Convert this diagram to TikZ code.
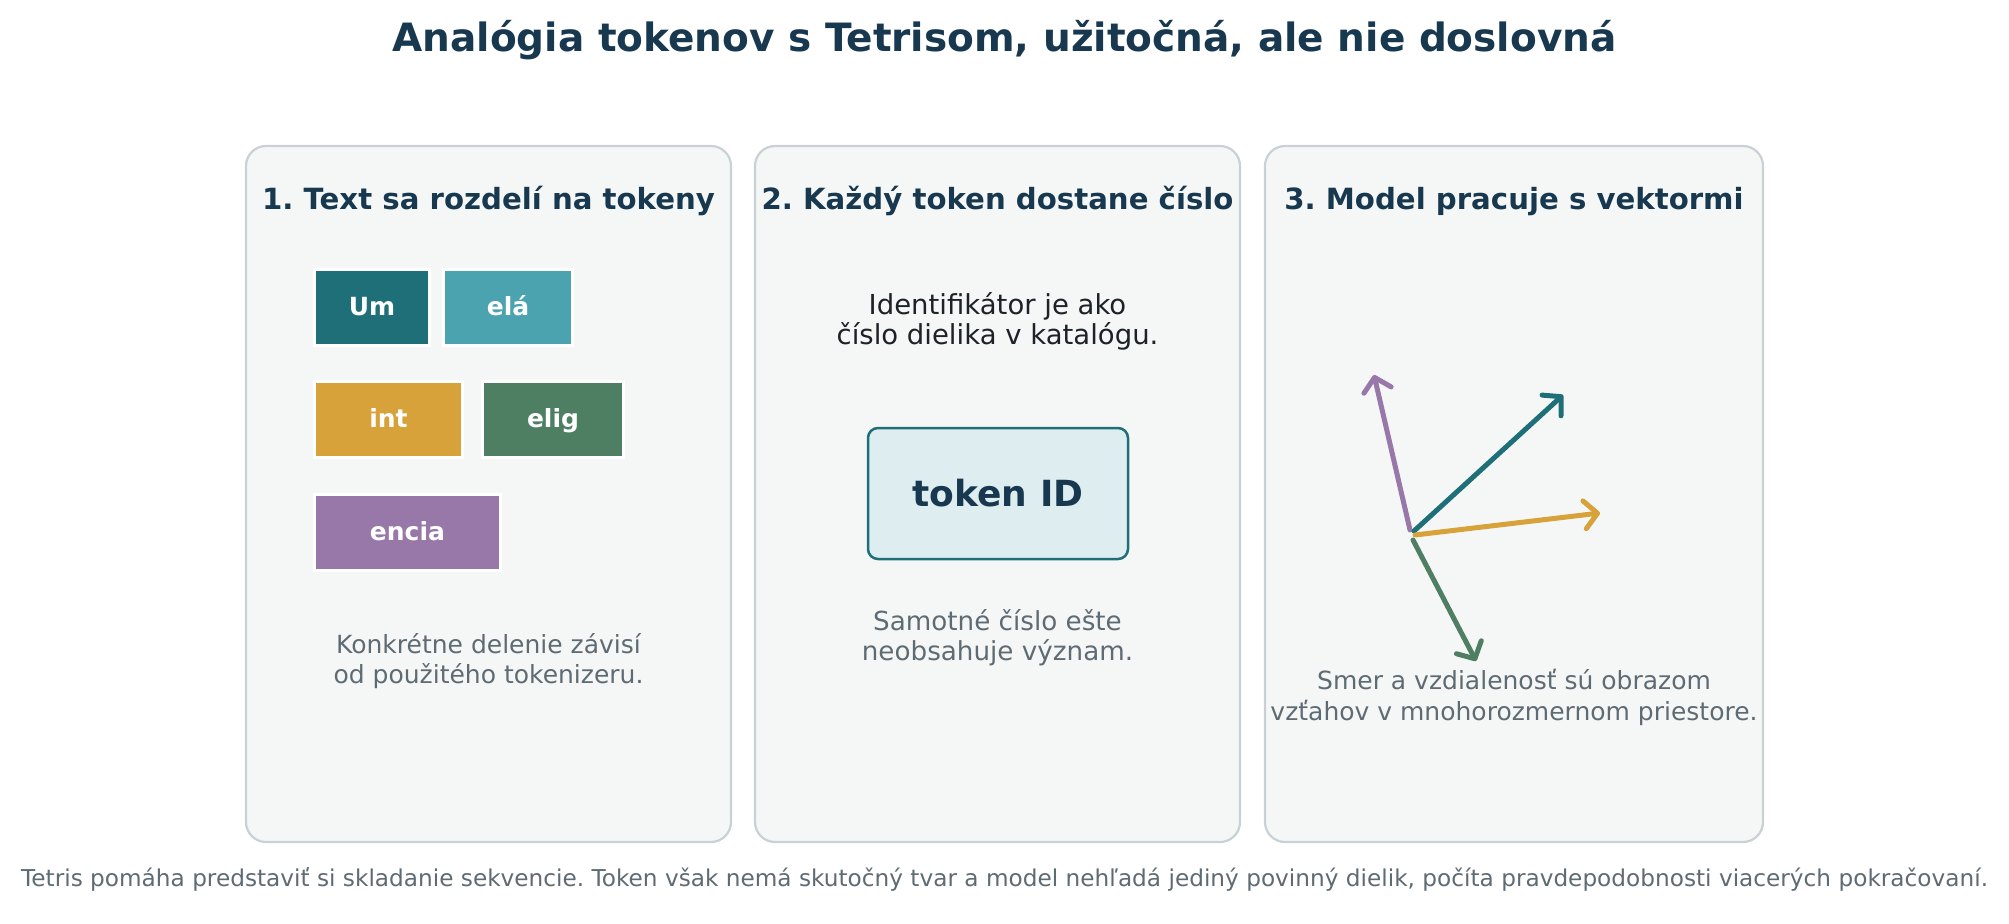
\documentclass[tikz,border=0pt]{standalone}
\usepackage{fontspec}
\setmainfont{DejaVu Sans}
\usetikzlibrary{arrows.meta}
\frenchspacing
\definecolor{navy}{HTML}{17384F}
\definecolor{panelfill}{HTML}{F5F7F7}
\definecolor{panelline}{HTML}{C9D1D5}
\definecolor{graytext}{HTML}{5F6B73}
\definecolor{darktext}{HTML}{1C2226}
\definecolor{idfill}{HTML}{DDEDF0}
\definecolor{cteal}{HTML}{1F6F78}
\definecolor{clight}{HTML}{4AA3AF}
\definecolor{corange}{HTML}{D7A23A}
\definecolor{cgreen}{HTML}{4E7F62}
\definecolor{cpurple}{HTML}{9878A8}
\tikzset{
  panel/.style={draw=panelline, fill=panelfill, line width=2.2pt, rounded corners=20pt},
  ptitle/.style={anchor=base, inner sep=0pt, text=navy, font=\fontsize{29.2}{35}\selectfont\bfseries},
  tok/.style={draw=white, line width=3pt, inner sep=0pt, minimum height=76pt, text=white,
    text height=19pt, text depth=4pt, font=\fontsize{25}{30}\selectfont\bfseries},
  body/.style={anchor=base, inner sep=0pt, text=graytext, font=\fontsize{25}{30}\selectfont},
  bodymid/.style={anchor=base, inner sep=0pt, text=graytext, font=\fontsize{26.2}{31}\selectfont},
  bodydark/.style={anchor=base, inner sep=0pt, text=darktext, font=\fontsize{27.5}{33}\selectfont},
  vec/.style={line width=5pt, line cap=round, -{Straight Barb[length=13pt,width=28pt,round]}},
}
\begin{document}
\begin{tikzpicture}[x=1pt,y=-1pt]
\useasboundingbox[fill=white] (0,0) rectangle (2009,923);
% title
\node[anchor=base, inner sep=0pt, text=navy, font=\fontsize{39}{47}\selectfont\bfseries] (title) at (1004.5,52) {Analógia tokenov s Tetrisom, užitočná, ale nie doslovná};
% panels
\draw[panel] (246,146) rectangle (731,842);
\draw[panel] (755,146) rectangle (1240,842);
\draw[panel] (1265,146) rectangle (1763,842);
\node[ptitle] (t1) at (488.5,209) {1. Text sa rozdelí na tokeny};
\node[ptitle] (t2) at (997.5,209) {2. Každý token dostane číslo};
\node[ptitle] (t3) at (1514,209) {3. Model pracuje s vektormi};
% panel 1 tokens
\node[tok, fill=cteal, minimum width=115pt] (um) at (372,307.5) {Um};
\node[tok, fill=clight, minimum width=129pt] (ela) at (508,307.5) {elá};
\node[tok, fill=corange, minimum width=148pt] (int) at (388.5,419.5) {int};
\node[tok, fill=cgreen, minimum width=141pt] (elig) at (553,419.5) {elig};
\node[tok, fill=cpurple, minimum width=186pt] (encia) at (407.5,532.5) {encia};
\node[body] (c1a) at (488.5,653) {Konkrétne delenie závisí};
\node[body] (c1b) at (488.5,683) {od použitého tokenizeru.};
% panel 2
\node[bodydark] (i1) at (997.5,314) {Identifikátor je ako};
\node[bodydark] (i2) at (997.5,344) {číslo dielika v katalógu.};
\node[draw=cteal, fill=idfill, line width=2.5pt, rounded corners=10pt, minimum width=260pt, minimum height=131pt,
  text=navy, font=\fontsize{36}{43}\selectfont\bfseries] (tid) at (998,493.5) {token ID};
\node[bodymid] (s1) at (997.5,630) {Samotné číslo ešte};
\node[bodymid] (s2) at (997.5,660) {neobsahuje význam.};
% panel 3 vectors
\coordinate (oP) at (1410,530);
\coordinate (tP) at (1374,375);
\coordinate (oT) at (1414,531);
\coordinate (tT) at (1563,395);
\coordinate (oO) at (1415,535);
\coordinate (tO) at (1600,513);
\coordinate (oG) at (1413,540);
\coordinate (tG) at (1476,661);
\draw[vec, cpurple] (oP) -- (tP);
\draw[vec, cteal] (oT) -- (tT);
\draw[vec, corange] (oO) -- (tO);
\draw[vec, cgreen] (oG) -- (tG);
\node[body] (v1) at (1514,689) {Smer a vzdialenosť sú obrazom};
\node[body] (v2) at (1514,720) {vzťahov v mnohorozmernom priestore.};
% footer
\node[anchor=base, inner sep=0pt, text=graytext, font=\fontsize{23.2}{28}\selectfont] (foot) at (1004.5,886) {Tetris pomáha predstaviť si skladanie sekvencie. Token však nemá skutočný tvar a model nehľadá jediný povinný dielik, počíta pravdepodobnosti viacerých pokračovaní.};
\end{tikzpicture}
\end{document}
